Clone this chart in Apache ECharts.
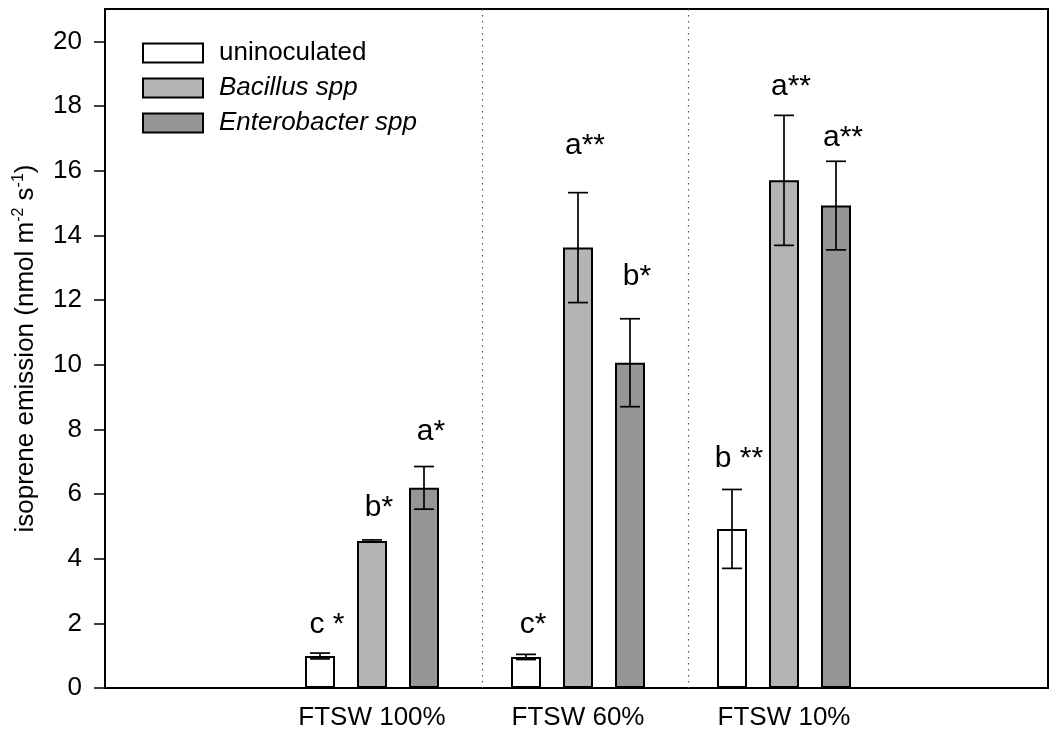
<!DOCTYPE html>
<html>
<head>
<meta charset="utf-8">
<script src="https://cdn.jsdelivr.net/npm/echarts@6/dist/echarts.min.js"></script>
<style>
html, body { margin: 0; padding: 0; background: #fff; }
#chart { width: 1052px; height: 730px; }
</style>
</head>
<body>
<div id="chart"></div>
<script>
var categories = ['FTSW 100%', 'FTSW 60%', 'FTSW 10%'];
var yTicks = [0, 2, 4, 6, 8, 10, 12, 14, 16, 18, 20];

// bar heights, +/- error, significance letters and the height they sit at
var uninoculated = [0.99, 0.96, 4.92];
var uninoculatedErr = [0.09, 0.08, 1.22];
var uninoculatedTag = ['c *', 'c*', 'b **'];
var uninoculatedTagAt = [1.61, 1.61, 6.75];

var bacillus = [4.55, 13.62, 15.70];
var bacillusErr = [0.03, 1.70, 2.01];
var bacillusTag = ['b*', 'a**', 'a**'];
var bacillusTagAt = [5.23, 16.44, 18.27];

var enterobacter = [6.19, 10.06, 14.92];
var enterobacterErr = [0.66, 1.36, 1.37];
var enterobacterTag = ['a*', 'b*', 'a**'];
var enterobacterTagAt = [7.59, 12.38, 16.69];

var FONT = '"Liberation Sans", Arial, sans-serif';
var BAR_W = 30;
var BAR_SPACE = 22; // px between neighbouring bars

var chart = echarts.init(document.getElementById('chart'));

function errorBars(pos, values, errs, tags, tagAt) {
    return function (params, api) {
        var i = api.value(0);
        var top = api.coord([i, values[i] + errs[i]]);
        var bot = api.coord([i, values[i] - errs[i]]);
        var x = top[0] + pos * (BAR_W + BAR_SPACE);
        var tagPt = api.coord([i, tagAt[i]]);
        var st = { stroke: '#000', lineWidth: 1.7 };
        return {
            type: 'group',
            children: [
                { type: 'line', shape: { x1: x, y1: top[1], x2: x, y2: bot[1] }, style: st },
                { type: 'line', shape: { x1: x - 10, y1: top[1], x2: x + 10, y2: top[1] }, style: st },
                { type: 'line', shape: { x1: x - 10, y1: bot[1], x2: x + 10, y2: bot[1] }, style: st },
                {
                    type: 'text', x: x + 7, y: tagPt[1] + 4,
                    style: {
                        text: tags[i], fontSize: 30, fontFamily: FONT, fill: '#000',
                        align: 'center', verticalAlign: 'bottom'
                    }
                }
            ]
        };
    };
}

function barSeries(name, values, color) {
    return {
        name: name,
        type: 'bar',
        xAxisIndex: 1,
        yAxisIndex: 1,
        barWidth: BAR_W,
        barGap: (BAR_SPACE / BAR_W * 100) + '%',
        data: values,
        itemStyle: { color: color, borderColor: '#000', borderWidth: 2 },
        z: 2
    };
}

function errSeries(pos, values, errs, tags, tagAt) {
    return {
        type: 'custom',
        xAxisIndex: 1,
        yAxisIndex: 1,
        renderItem: errorBars(pos, values, errs, tags, tagAt),
        data: values.map(function (v, i) { return [i, v]; }),
        z: 5,
        silent: true
    };
}

var option = {
    backgroundColor: '#fff',
    animation: false,
    grid: [
        { left: 105, right: 4, top: 9, bottom: 42, show: true, borderColor: '#000', borderWidth: 2, outerBoundsMode: 'none' },
        { left: 269, width: 618, top: 9, bottom: 42, outerBoundsMode: 'none' },
        // group separators sit a few px right of the bar-group midpoints
        { left: 276, width: 618, top: 9, bottom: 42, outerBoundsMode: 'none' }
    ],
    legend: {
        orient: 'vertical',
        left: 142,
        top: 40,
        padding: 0,
        itemWidth: 60,
        itemHeight: 19,
        itemGap: 9,
        icon: 'rect',
        data: ['uninoculated', 'Bacillus spp', 'Enterobacter spp'],
        formatter: function (name) {
            return name === 'uninoculated' ? name : '{i|' + name + '}';
        },
        textStyle: {
            fontSize: 26, fontFamily: FONT, color: '#000', lineHeight: 26,
            padding: [0, 0, 0, 11],
            rich: { i: { fontSize: 26, fontFamily: FONT, fontStyle: 'italic', color: '#000' } }
        }
    },
    xAxis: [
        { type: 'value', gridIndex: 0, show: false, min: 0, max: 1 },
        {
            type: 'category',
            gridIndex: 1,
            data: categories,
            axisLine: { show: false },
            axisTick: { show: false },
            axisLabel: { fontSize: 26, fontFamily: FONT, color: '#000', margin: 17 },
            splitLine: { show: false }
        },
        {
            type: 'category',
            gridIndex: 2,
            data: categories,
            axisLine: { show: false },
            axisTick: { show: false },
            axisLabel: { show: false },
            splitLine: {
                show: true,
                showMinLine: false,
                showMaxLine: false,
                lineStyle: { color: '#555', width: 1.2, type: [1.5, 4.5] }
            }
        }
    ],
    yAxis: [
        {
            type: 'value',
            gridIndex: 0,
            min: 0,
            max: 21,
            name: 'isoprene emission (nmol m{s|-2} s{s|-1})',
            nameLocation: 'middle',
            nameGap: 62,
            nameTextStyle: {
                fontSize: 26, fontFamily: FONT, color: '#000', lineHeight: 32,
                rich: { s: { fontSize: 16, fontFamily: FONT, color: '#000', verticalAlign: 'top', lineHeight: 16 } }
            },
            axisLine: { show: true, lineStyle: { color: '#000', width: 2 } },
            axisTick: { show: true, inside: false, length: 11, lineStyle: { color: '#000', width: 1.5 }, customValues: yTicks },
            axisLabel: { fontSize: 26, fontFamily: FONT, color: '#000', margin: 23, customValues: yTicks },
            splitLine: { show: false }
        },
        { type: 'value', gridIndex: 1, min: 0, max: 21, show: false },
        { type: 'value', gridIndex: 2, min: 0, max: 21, show: false }
    ],
    series: [
        barSeries('uninoculated', uninoculated, '#ffffff'),
        barSeries('Bacillus spp', bacillus, '#b4b4b4'),
        barSeries('Enterobacter spp', enterobacter, '#969696'),
        errSeries(-1, uninoculated, uninoculatedErr, uninoculatedTag, uninoculatedTagAt),
        errSeries(0, bacillus, bacillusErr, bacillusTag, bacillusTagAt),
        errSeries(1, enterobacter, enterobacterErr, enterobacterTag, enterobacterTagAt)
    ]
};

chart.setOption(option);
</script>
</body>
</html>
